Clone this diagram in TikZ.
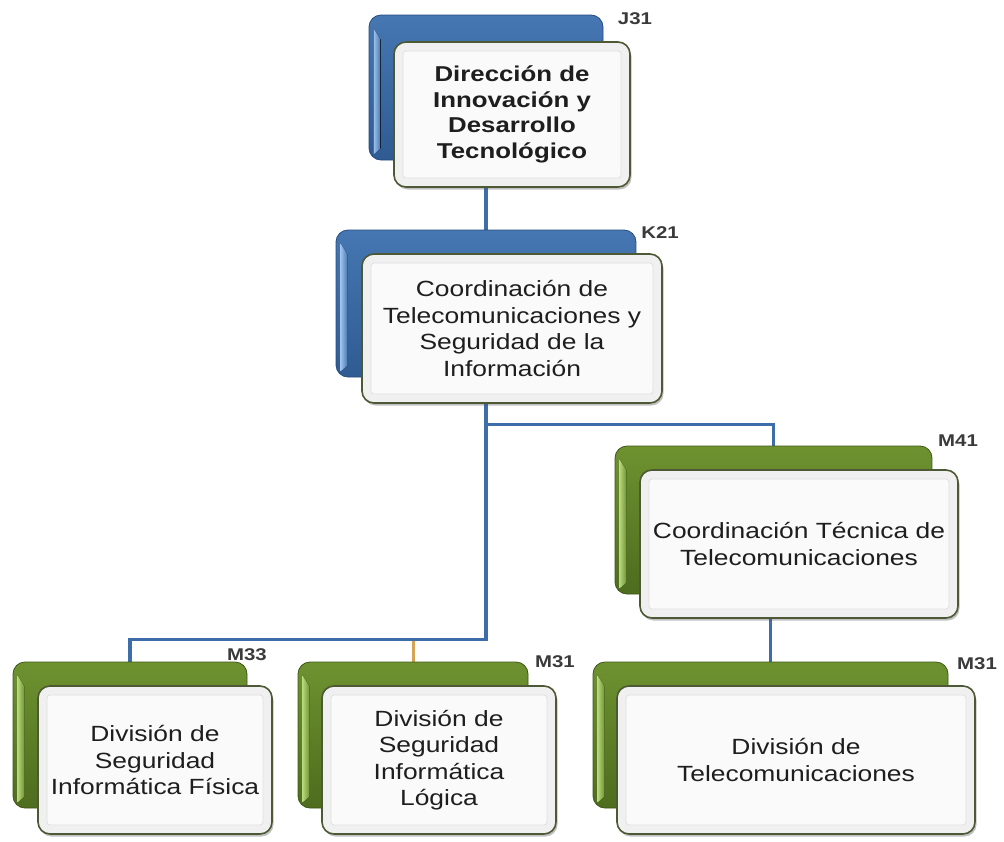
\documentclass[tikz,border=0pt]{standalone}
\usepackage{fontspec}
\setmainfont{Liberation Sans}
\newfontfamily\wide{Liberation Sans}[FakeStretch=1.2]
\usetikzlibrary{shadows,calc,backgrounds}
\definecolor{blueTop}{HTML}{4677B2}
\definecolor{blueBot}{HTML}{2F5B92}
\definecolor{blueDark}{HTML}{264C7E}
\definecolor{blueLight}{HTML}{9CC0EA}
\definecolor{greenTop}{HTML}{6E9230}
\definecolor{greenBot}{HTML}{4E6C1E}
\definecolor{greenDark}{HTML}{3F5716}
\definecolor{greenLight}{HTML}{B4D57A}
\definecolor{frameCol}{HTML}{4D5935}
\definecolor{lineBlue}{HTML}{3D6EA9}
\definecolor{lineOrange}{HTML}{D6A452}
\definecolor{labelGray}{HTML}{3A3A3A}
\definecolor{textCol}{HTML}{1E1E1E}
\tikzset{
  backbox/.style={rectangle, rounded corners=12pt, inner sep=0pt, line width=0.8pt},
  blueback/.style={backbox, draw=blueDark, top color=blueTop, bottom color=blueBot},
  greenback/.style={backbox, draw=greenDark, top color=greenTop, bottom color=greenBot},
  frontbox/.style={rectangle, rounded corners=12pt, inner sep=0pt, draw=frameCol,
    line width=1.6pt, fill=black!6,
    drop shadow={shadow xshift=1.5pt, shadow yshift=-2.5pt, opacity=0.35, fill=black!70},
    path picture={\draw[black!12, line width=0.8pt, fill=white!98!black, rounded corners=3pt]
      ($(path picture bounding box.south west)+(9pt,9pt)$) rectangle
      ($(path picture bounding box.north east)+(-9pt,-9pt)$);},
    align=center, text=textCol, font=\wide\fontsize{22}{26.5}\selectfont},
  boldtext/.style={font=\wide\bfseries\fontsize{21.5}{25.5}\selectfont},
  codelabel/.style={font=\wide\bfseries\fontsize{17}{17}\selectfont, text=labelGray, inner sep=0pt},
  conn/.style={draw=lineBlue, line width=3.5pt},
  orangeconn/.style={draw=lineOrange, line width=3pt},
}
\newcommand{\bluestrip}[1]{%
  \fill[left color=blueLight, right color=blueTop]
    ([shift={(5pt,-14pt)}]#1.north west) -- ([shift={(12pt,-25pt)}]#1.north west)
    -- ([shift={(12pt,12pt)}]#1.south west) -- ([shift={(5pt,6pt)}]#1.south west) -- cycle;}
\newcommand{\greenstrip}[1]{%
  \fill[left color=greenLight, right color=greenTop]
    ([shift={(5pt,-14pt)}]#1.north west) -- ([shift={(12pt,-25pt)}]#1.north west)
    -- ([shift={(12pt,12pt)}]#1.south west) -- ([shift={(5pt,6pt)}]#1.south west) -- cycle;}
\begin{document}
\begin{tikzpicture}[x=1pt,y=-1pt]
\useasboundingbox (0,0) rectangle (1004,841);
% J31
\node[blueback, minimum width=234pt, minimum height=145pt] (j31b) at (486,87.5) {};
\bluestrip{j31b}
\node[frontbox, boldtext, minimum width=236pt, minimum height=145pt] (j31f) at (512,114.5)
  {Dirección de\\Innovación y\\Desarrollo\\Tecnológico};
\node[codelabel] (j31l) at (635,19) {J31};
% K21
\node[blueback, minimum width=300pt, minimum height=147pt] (k21b) at (486,303.5) {};
\bluestrip{k21b}
\node[frontbox, minimum width=300pt, minimum height=149pt] (k21f) at (512,328.5)
  {Coordinación de\\Telecomunicaciones y\\Seguridad de la\\Información};
\node[codelabel] (k21l) at (660,233) {K21};
% M41
\node[greenback, minimum width=317pt, minimum height=148pt] (m41b) at (773.5,520) {};
\greenstrip{m41b}
\node[frontbox, minimum width=318pt, minimum height=148pt] (m41f) at (799,544)
  {Coordinación Técnica de\\Telecomunicaciones};
\node[codelabel] (m41l) at (958,441) {M41};
% M33
\node[greenback, minimum width=234pt, minimum height=146pt] (m33b) at (130,735) {};
\greenstrip{m33b}
\node[frontbox, minimum width=234pt, minimum height=148pt] (m33f) at (155,760)
  {División de\\Seguridad\\Informática Física};
\node[codelabel] (m33l) at (247,655) {M33};
% M31 middle
\node[greenback, minimum width=230pt, minimum height=146pt] (m31ab) at (413,735) {};
\greenstrip{m31ab}
\node[frontbox, minimum width=234pt, minimum height=148pt] (m31af) at (439,760)
  {División de\\Seguridad\\Informática\\Lógica};
\node[codelabel] (m31al) at (555,662) {M31};
% M31 right
\node[greenback, minimum width=355pt, minimum height=146pt] (m31bb) at (770.5,735) {};
\greenstrip{m31bb}
\node[frontbox, minimum width=358pt, minimum height=148pt] (m31bf) at (796,760)
  {División de\\Telecomunicaciones};
\node[codelabel] (m31bl) at (977,664) {M31};
% connectors
\begin{scope}[on background layer]
\draw[conn] (k21b.north) -- (k21b.north |- j31f.south);
\draw[orangeconn] (m31ab.north) -- ([yshift=22pt]m31ab.north);
\draw[conn] (k21b.center) |- ([yshift=21pt]m41b.north) -- (m41b.north);
\draw[conn] (k21b.center) |- ([yshift=22pt]m33b.north) -- (m33b.north);
\draw[conn] (m31bb.north) -- (m31bb.north |- m41f.south);
\end{scope}
\end{tikzpicture}
\end{document}
